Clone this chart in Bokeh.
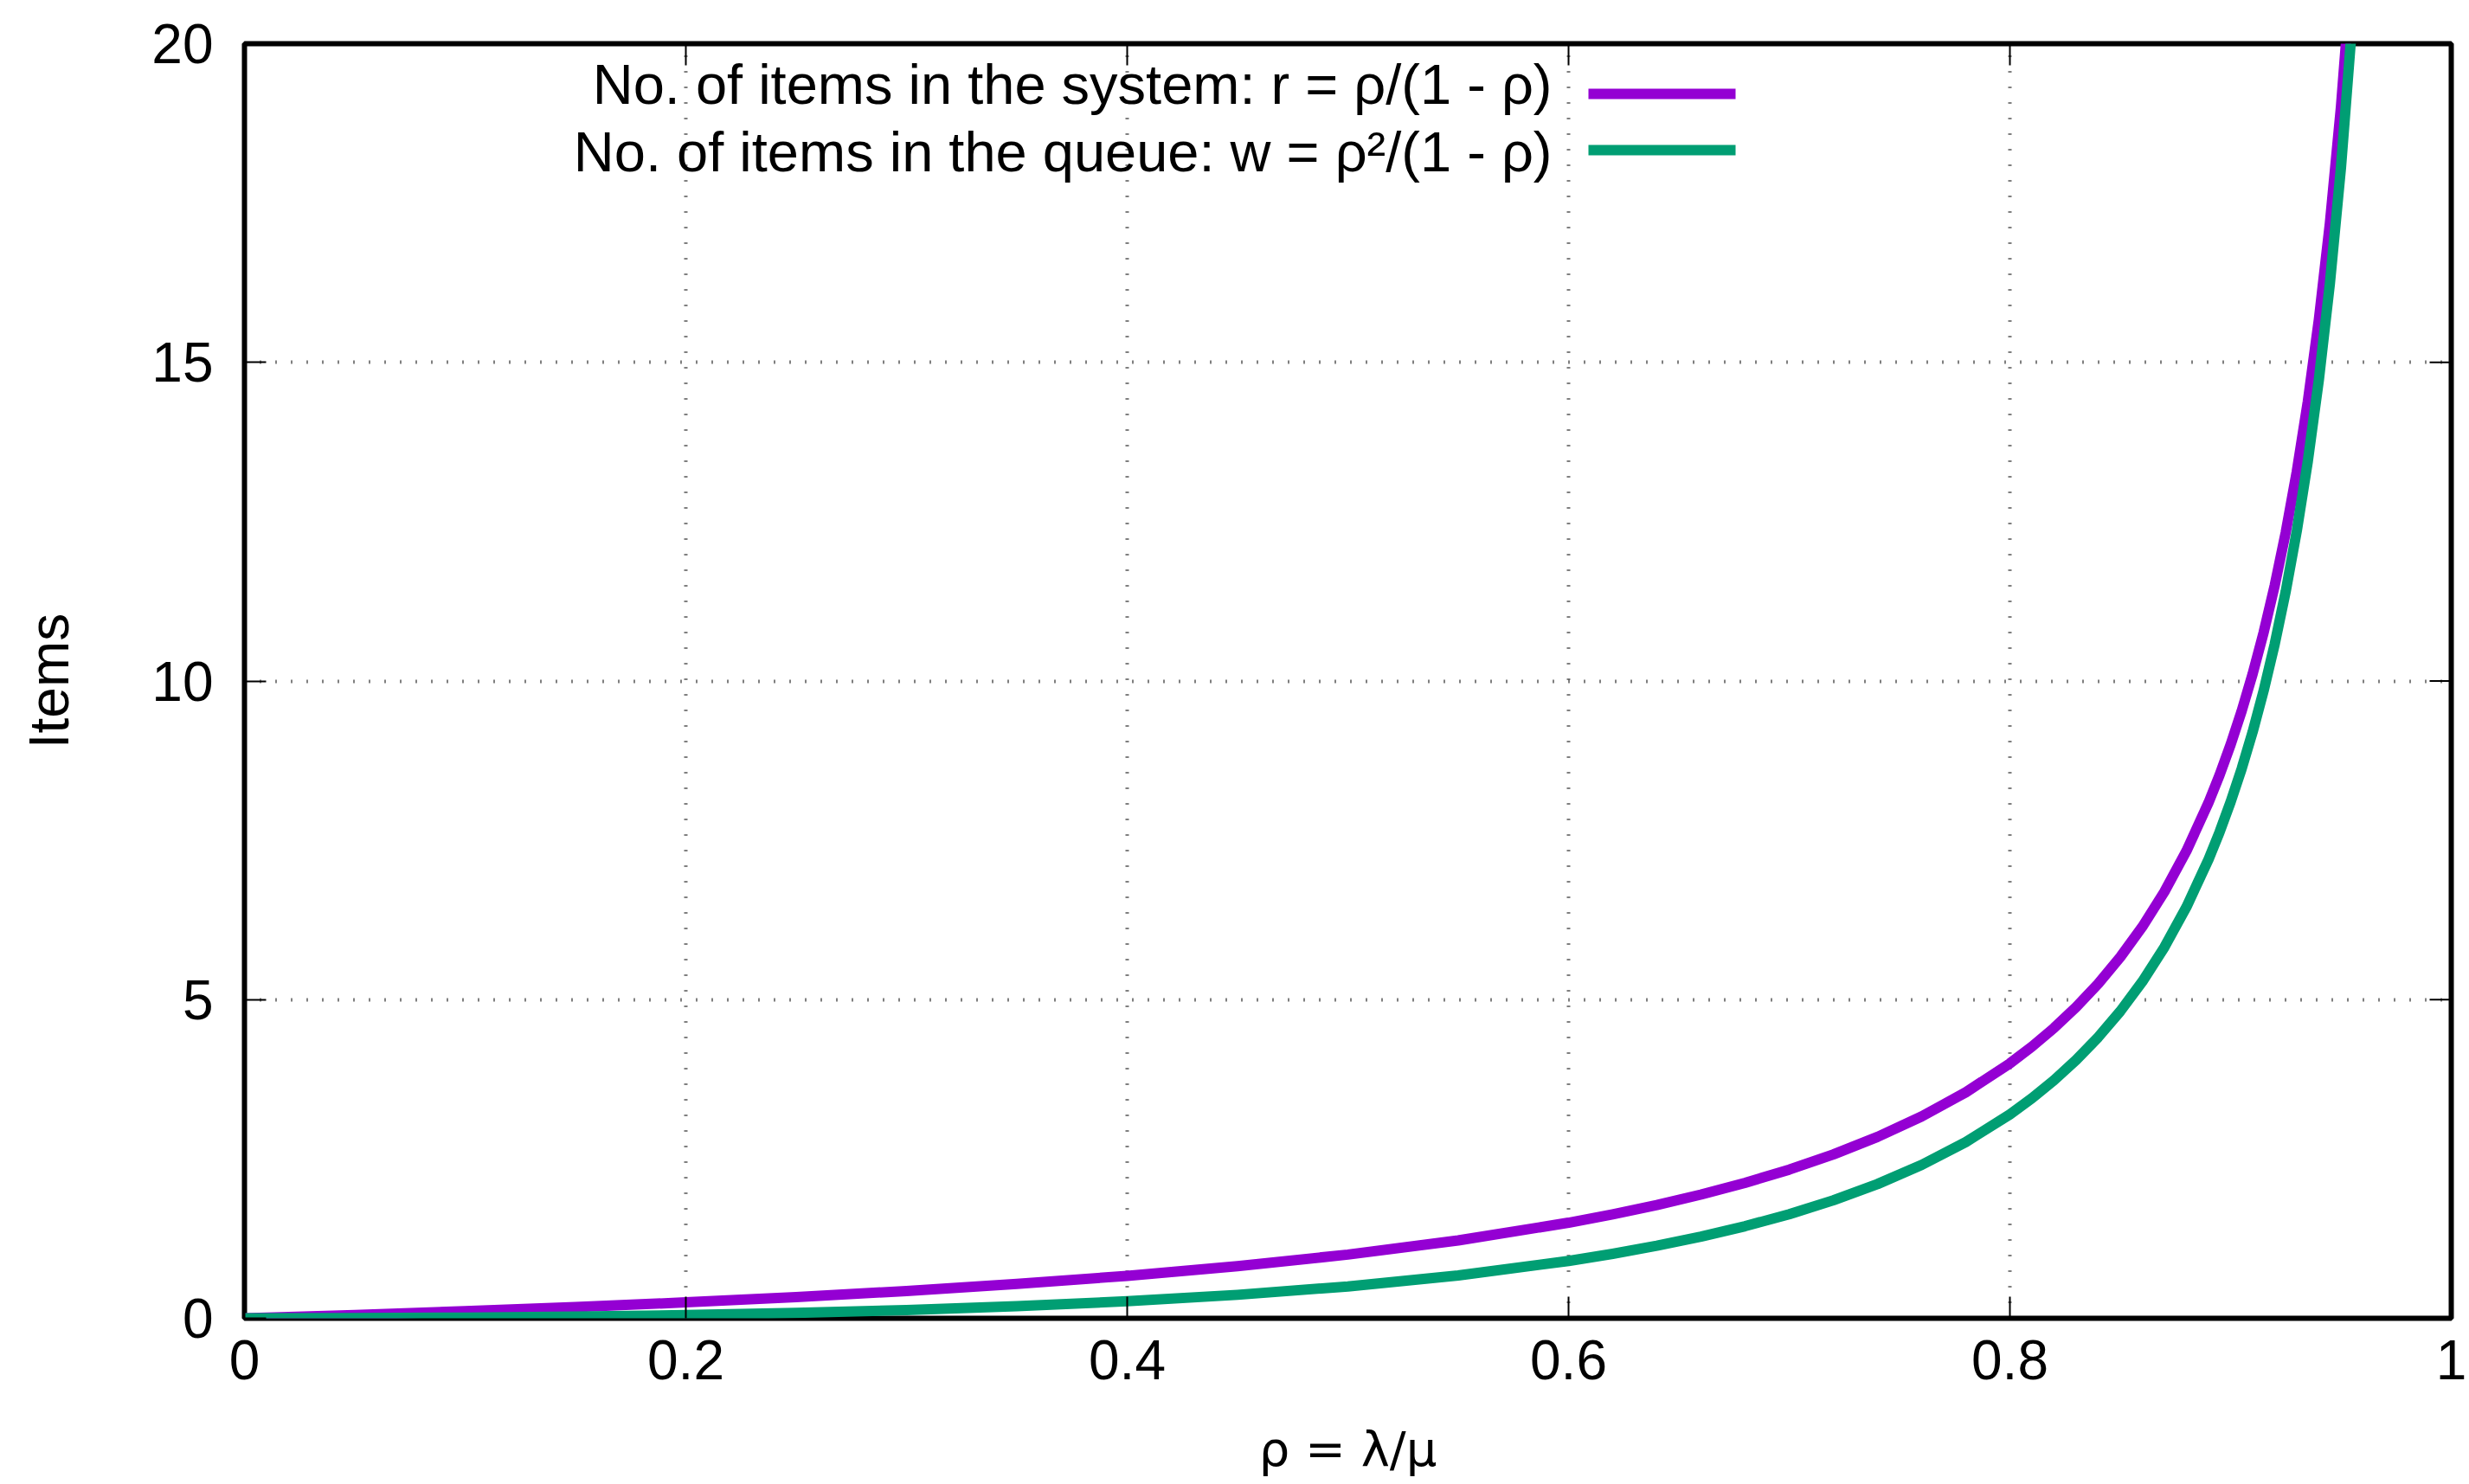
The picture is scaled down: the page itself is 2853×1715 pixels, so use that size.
from bokeh.plotting import figure
from bokeh.models import Range1d, FixedTicker, Label
from bokeh.embed import file_html
from bokeh.resources import INLINE

# ---- data ----
rho = [0.0, 0.05, 0.1, 0.15, 0.2, 0.25, 0.3, 0.35, 0.4, 0.45, 0.5, 0.55, 0.6,
       0.62, 0.64, 0.66, 0.68, 0.7, 0.72, 0.74, 0.76, 0.78, 0.8, 0.81, 0.82,
       0.83, 0.84, 0.85, 0.86, 0.87, 0.88, 0.89, 0.895, 0.9, 0.905, 0.91,
       0.915, 0.92, 0.925, 0.93, 0.935, 0.94, 0.945, 0.95, 0.955, 0.96]
items_system = [0.0, 0.0526, 0.1111, 0.1765, 0.25, 0.3333, 0.4286, 0.5385, 0.6667,
                0.8182, 1.0, 1.2222, 1.5, 1.6316, 1.7778, 1.9412, 2.125, 2.3333,
                2.5714, 2.8462, 3.1667, 3.5455, 4.0, 4.2632, 4.5556, 4.8824, 5.25,
                5.6667, 6.1429, 6.6923, 7.3333, 8.0909, 8.5238, 9.0, 9.5263,
                10.111, 10.7647, 11.5, 12.3333, 13.286, 14.3846, 15.667, 17.1818,
                19.0, 21.2222, 24.0]
items_queue = [0.0, 0.0026, 0.0111, 0.0265, 0.05, 0.0833, 0.1286, 0.1885, 0.2667,
               0.3682, 0.5, 0.6722, 0.9, 1.0116, 1.1378, 1.2812, 1.445, 1.6333,
               1.8514, 2.1062, 2.4067, 2.7655, 3.2, 3.4532, 3.7356, 4.0524, 4.41,
               4.8167, 5.2829, 5.8223, 6.4533, 7.2009, 7.6288, 8.1, 8.6213,
               9.2011, 9.8497, 10.58, 11.4083, 12.356, 13.4496, 14.727, 16.2368,
               18.05, 20.2672, 23.04]
series_labels = ["No. of items in the system: r = ρ/(1 - ρ)",
                 "No. of items in the queue: w = ρ²/(1 - ρ)"]
series_colors = ["#9400D3", "#009E73"]
x_ticks = [0, 0.2, 0.4, 0.6, 0.8, 1]
x_tick_labels = ["0", "0.2", "0.4", "0.6", "0.8", "1"]
y_ticks = [0, 5, 10, 15, 20]
y_tick_labels = ["0", "5", "10", "15", "20"]
x_title = "ρ = λ/μ"
y_title = "Items"

# ---- layout ----
W, H = 2853, 1715
FL, FR, FT, FB = 282, 2832, 50, 1523     # frame edges on the canvas
XMIN, XMAX, YMIN, YMAX = 0.0, 1.0, 0.0, 20.0
FONT = "Liberation Sans"
TICK = 25

p = figure(width=W, height=H, output_backend="svg", toolbar_location=None,
           x_range=Range1d(XMIN, XMAX), y_range=Range1d(YMIN, YMAX),
           min_border_left=FL, min_border_right=W - FR,
           min_border_top=FT, min_border_bottom=H - FB,
           x_axis_label=x_title, y_axis_label=y_title)
p.background_fill_color = "white"
p.border_fill_color = "white"
p.outline_line_color = "black"
p.outline_line_width = 6
p.outline_line_alpha = 1

def dx(px):  # canvas pixel -> data x
    return XMIN + (px - FL) / (FR - FL) * (XMAX - XMIN)

def dy(py):  # canvas pixel -> data y
    return YMIN + (FB - py) / (FB - FT) * (YMAX - YMIN)

# grids
p.xgrid.ticker = FixedTicker(ticks=x_ticks)
p.ygrid.ticker = FixedTicker(ticks=y_ticks)
for g in (p.xgrid[0], p.ygrid[0]):
    g.grid_line_color = "black"
    g.grid_line_width = 4
    g.grid_line_dash = "1 17"
    g.grid_line_alpha = 1.0

def style_axis(ax, ticks, labels):
    ax.ticker = FixedTicker(ticks=ticks)
    ax.major_tick_in = TICK
    ax.major_tick_out = 0
    ax.major_tick_line_width = 2
    ax.major_tick_line_color = "black"
    ax.minor_tick_line_color = None
    ax.axis_line_color = None
    ax.major_label_overrides = {t: l for t, l in zip(ticks, labels)}
    ax.major_label_text_font = FONT
    ax.major_label_text_font_size = "64px"
    ax.major_label_text_color = "black"

style_axis(p.xaxis[0], x_ticks, x_tick_labels)
style_axis(p.yaxis[0], y_ticks, y_tick_labels)
p.xaxis[0].major_label_standoff = 25
p.yaxis[0].major_label_standoff = 36

p.xaxis[0].axis_label_text_font = "DejaVu Sans"
p.xaxis[0].axis_label_text_font_size = "56px"
p.xaxis[0].axis_label_text_font_style = "normal"
p.xaxis[0].axis_label_text_color = "black"
p.xaxis[0].axis_label_standoff = 45
p.yaxis[0].axis_label_text_font = FONT
p.yaxis[0].axis_label_text_font_size = "64px"
p.yaxis[0].axis_label_text_font_style = "normal"
p.yaxis[0].axis_label_text_color = "black"
p.yaxis[0].axis_label_standoff = 79

# mirrored inward ticks on the top and right borders (from the tick arrays)
tick_dy = dy(FT) - dy(FT + TICK)
tick_dx = dx(FL + TICK) - dx(FL)
p.segment(x0=x_ticks, y0=[YMAX] * len(x_ticks), x1=x_ticks,
          y1=[YMAX - tick_dy] * len(x_ticks), line_color="black", line_width=2)
p.segment(x0=[XMAX] * len(y_ticks), y0=y_ticks, x1=[XMAX - tick_dx] * len(y_ticks),
          y1=y_ticks, line_color="black", line_width=2)

# curves
for ys, c in zip([items_system, items_queue], series_colors):
    p.line(rho, ys, line_color=c, line_width=12, line_join="round")

# legend (text right-aligned, sample line on its right, as in the original)
text_right = 1793
text_mid = [97, 175]
sample_y = [108, 173]
for lab, c, ym, ys in zip(series_labels, series_colors, text_mid, sample_y):
    p.add_layout(Label(x=dx(text_right), y=dy(ym), text=lab, text_align="right",
                       text_baseline="middle", text_font=FONT,
                       text_font_size="65px", text_color="black"))
    p.segment(x0=[dx(1835)], y0=[dy(ys)], x1=[dx(2005)], y1=[dy(ys)],
              line_color=c, line_width=12, line_cap="butt")

open("out.html", "w").write(file_html(p, INLINE))
